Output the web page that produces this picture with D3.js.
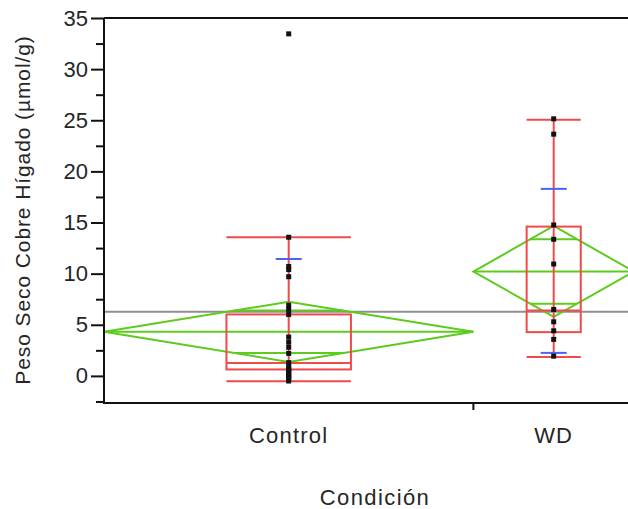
<!DOCTYPE html>
<html>
<head>
<meta charset="utf-8">
<script src="https://cdn.jsdelivr.net/npm/d3@7"></script>
<style>
  body { margin: 0; background: #fff; }
  text { font-family: "Liberation Sans", Arial, sans-serif; fill: #262626; }
</style>
</head>
<body>
<div id="chart"></div>
<script>
var width = 628,
height = 509;

// data
var groups = ["Control", "WD"];
var counts = [23, 10];
var controlValues = [33.45, 13.56, 10.7, 10.4, 9.7, 6.9, 6.5, 6.0, 3.8, 3.3, 2.8, 2.2,
	1.3, 1.0, 0.7, 0.6, 0.5, 0.3, 0.1, 0.0, -0.1, -0.3, -0.5];
var wdValues = [25.14, 23.64, 14.76, 13.36, 10.94, 6.5, 5.29, 4.41, 3.57, 1.93];
var means = [4.31, 10.2];
var ciLow = [1.37, 5.78];
var ciHigh = [7.25, 14.66];
var sdLow = [-2.9, 2.25];
var sdHigh = [11.43, 18.29];
var q1 = [0.63, 4.28];
var medians = [1.27, 6.4];
var q3 = [6.01, 14.6];
var whiskLo = [-0.52, 1.86];
var whiskHi = [13.56, 25.04];
var grandMean = 6.27;
var yTicks = [0, 5, 10, 15, 20, 25, 30, 35];
var yMinorTicks = [-2.5, 2.5, 7.5, 12.5, 17.5, 22.5, 27.5, 32.5];

var plotLeft = 104, plotTop = 18, plotBottom = 403, plotRight = 634;

var red = "#f04a4a", green = "#5ccb1e", blue = "#4b62f5";

var svg = d3.select("#chart")
.append("svg")
.attr("width", width)
.attr("height", height);

var yScale = d3.scaleLinear()
.domain([-2.65, 35])
.range([plotBottom, plotTop]);

// group widths follow the group sizes
var xScale = d3.scaleLinear()
.domain([0, d3.sum(counts)])
.range([plotLeft, plotRight]);

var starts = [0];
counts.forEach(function(c, i) { starts.push(starts[i] + c); });

var groupData = groups.map(function(g, i) {
	var x0 = xScale(starts[i]), x1 = xScale(starts[i + 1]);
	return {
		name: g, x0: x0, x1: x1, xc: (x0 + x1) / 2, w: x1 - x0,
		values: i == 0 ? controlValues : wdValues,
		mean: means[i], lo: ciLow[i], hi: ciHigh[i],
		sdLo: sdLow[i], sdHi: sdHigh[i],
		q1: q1[i], med: medians[i], q3: q3[i], wLo: whiskLo[i], wHi: whiskHi[i]
	};
});

svg.append("clipPath")
.attr("id", "plot-clip")
.append("rect")
.attr("x", plotLeft)
.attr("y", plotTop)
.attr("width", width - plotLeft)
.attr("height", plotBottom - plotTop);

var plot = svg.append("g").attr("clip-path", "url(#plot-clip)");

// grand mean
plot.append("line")
.attr("x1", plotLeft)
.attr("x2", width)
.attr("y1", yScale(grandMean))
.attr("y2", yScale(grandMean))
.attr("stroke", "#8f8f8f")
.attr("stroke-width", 2);

// means diamonds
var diam = plot.selectAll(".diamond")
.data(groupData)
.enter()
.append("g")
.attr("class", "diamond")
.attr("stroke", green)
.attr("stroke-width", 2)
.attr("fill", "none");

diam.append("path")
.attr("d", function(d) {
	return "M" + d.x0 + "," + yScale(d.mean) +
		"L" + d.xc + "," + yScale(d.hi) +
		"L" + d.x1 + "," + yScale(d.mean) +
		"L" + d.xc + "," + yScale(d.lo) + "Z";
});

diam.append("line")
.attr("x1", function(d) { return d.x0; })
.attr("x2", function(d) { return d.x1; })
.attr("y1", function(d) { return yScale(d.mean); })
.attr("y2", function(d) { return yScale(d.mean); });

// overlap marks
[1, -1].forEach(function(s) {
	diam.append("line")
	.attr("x1", function(d) { return d.xc - d.w * (1 - Math.SQRT1_2) / 2; })
	.attr("x2", function(d) { return d.xc + d.w * (1 - Math.SQRT1_2) / 2; })
	.attr("y1", function(d) { return yScale(d.mean + s * (d.hi - d.mean) * Math.SQRT1_2); })
	.attr("y2", function(d) { return yScale(d.mean + s * (d.hi - d.mean) * Math.SQRT1_2); });
});

// box plots
var box = plot.selectAll(".box")
.data(groupData)
.enter()
.append("g")
.attr("class", "box")
.attr("stroke", red)
.attr("stroke-width", 2)
.attr("fill", "none");

var boxW = function(d) { return d.w * 0.337; };

box.append("line")
.attr("x1", function(d) { return d.xc; })
.attr("x2", function(d) { return d.xc; })
.attr("y1", function(d) { return yScale(d.wHi); })
.attr("y2", function(d) { return yScale(d.wLo); });

box.append("rect")
.attr("x", function(d) { return d.xc - boxW(d) / 2; })
.attr("width", boxW)
.attr("y", function(d) { return yScale(d.q3); })
.attr("height", function(d) { return yScale(d.q1) - yScale(d.q3); })
.attr("fill", "none");

["med", "wHi", "wLo"].forEach(function(k) {
	box.append("line")
	.attr("x1", function(d) { return d.xc - boxW(d) / 2; })
	.attr("x2", function(d) { return d.xc + boxW(d) / 2; })
	.attr("y1", function(d) { return yScale(d[k]); })
	.attr("y2", function(d) { return yScale(d[k]); });
});

// std dev lines
["sdLo", "sdHi"].forEach(function(k) {
	plot.selectAll(".sd-" + k)
	.data(groupData)
	.enter()
	.append("line")
	.attr("x1", function(d) { return d.xc - 13; })
	.attr("x2", function(d) { return d.xc + 13; })
	.attr("y1", function(d) { return yScale(d[k]); })
	.attr("y2", function(d) { return yScale(d[k]); })
	.attr("stroke", blue)
	.attr("stroke-width", 2);
});

// points
groupData.forEach(function(g) {
	plot.selectAll(null)
	.data(g.values)
	.enter()
	.append("rect")
	.attr("x", g.xc - 2.5)
	.attr("y", function(v) { return yScale(v) - 2.5; })
	.attr("width", 5)
	.attr("height", 5)
	.attr("fill", "#111");
});

// axes
var yAxis = svg.append("g")
.attr("transform", "translate(" + plotLeft + ",0)")
.call(d3.axisLeft(yScale).tickValues(yTicks).tickSize(13).tickFormat(d3.format("d")));

svg.append("g")
.attr("transform", "translate(" + plotLeft + ",0)")
.call(d3.axisLeft(yScale).tickValues(yMinorTicks).tickSize(8).tickFormat(""))
.select(".domain").remove();

yAxis.selectAll("text")
.attr("x", -16)
.style("font-size", "22px")
.style("font-family", "Liberation Sans, Arial, sans-serif")
.attr("fill", "#262626");

svg.selectAll(".tick line").attr("stroke", "#111").attr("stroke-width", 2);
yAxis.select(".domain").attr("stroke", "#111").attr("stroke-width", 2)
.attr("d", "M0," + plotTop + "V" + plotBottom);

svg.append("line")
.attr("x1", plotLeft)
.attr("x2", width)
.attr("y1", plotTop)
.attr("y2", plotTop)
.attr("stroke", "#111")
.attr("stroke-width", 2);

svg.append("line")
.attr("x1", plotLeft - 1)
.attr("x2", width)
.attr("y1", plotBottom)
.attr("y2", plotBottom)
.attr("stroke", "#111")
.attr("stroke-width", 2);

svg.append("line")
.attr("x1", xScale(starts[1]))
.attr("x2", xScale(starts[1]))
.attr("y1", plotBottom)
.attr("y2", plotBottom + 7)
.attr("stroke", "#111")
.attr("stroke-width", 2);

svg.selectAll(".group-label")
.data(groupData)
.enter()
.append("text")
.attr("class", "group-label")
.text(function(d) { return d.name; })
.attr("x", function(d) { return d.xc; })
.attr("y", 443)
.attr("text-anchor", "middle")
.style("font-size", "22px")
.style("letter-spacing", "1.2px");

svg.append("text")
.text("Condición")
.attr("x", 375)
.attr("y", 505)
.attr("text-anchor", "middle")
.style("font-size", "22px")
.style("letter-spacing", "1.4px");

svg.append("text")
.text("Peso Seco Cobre Hígado (µmol/g)")
.attr("transform", "translate(30,210) rotate(-90)")
.attr("text-anchor", "middle")
.style("font-size", "21px")
.style("letter-spacing", "0.9px");
</script>
</body>
</html>
